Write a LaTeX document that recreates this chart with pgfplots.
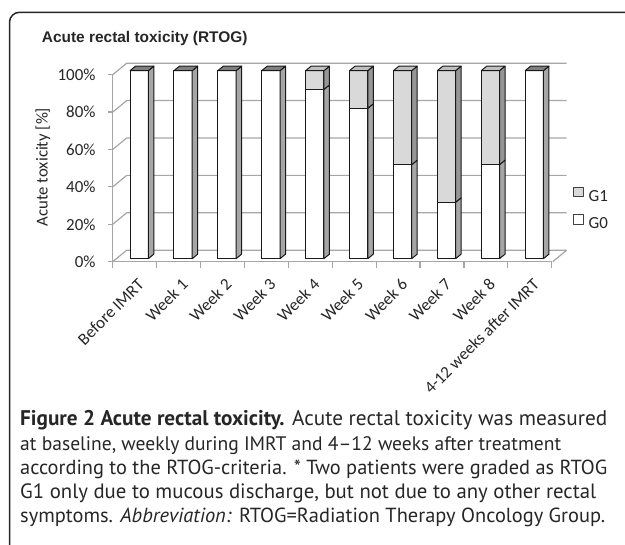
\documentclass[border=0pt]{standalone}
\usepackage{fontspec}
\setmainfont{PT Sans}
\newfontfamily\carlito{Carlito}
\newfontfamily\arialf{Liberation Sans}
\usepackage{graphicx}
\usepackage{pgfplots}
\usepackage{pgfplotstable}
\pgfplotsset{compat=1.18}

\definecolor{gridc}{HTML}{A6A6A6}
\definecolor{g1front}{HTML}{D9D9D9}
\definecolor{g1side}{HTML}{969696}
\definecolor{g1top}{HTML}{C0C0C0}
\definecolor{g0side}{HTML}{A6A6A6}
\definecolor{g0top}{HTML}{808080}
\definecolor{txt}{HTML}{262626}

\pgfplotstableread{
x g0 g1
0 100 0
1 100 0
2 100 0
3 100 0
4 90 10
5 80 20
6 50 50
7 30 70
8 50 50
9 100 0
}\tox

\begin{document}%
\def\hw{0.2084}\def\ddx{0.1253}\def\ddy{2.4}%
\gdef\faces{}%
\pgfplotstablegetrowsof{\tox}%
\pgfmathtruncatemacro\lastrow{\pgfplotsretval-1}%
\foreach \i in {0,...,\lastrow}{%
  \pgfplotstablegetelem{\i}{x}\of\tox \let\xx\pgfplotsretval
  \pgfplotstablegetelem{\i}{g0}\of\tox \let\ga\pgfplotsretval
  \pgfplotstablegetelem{\i}{g1}\of\tox \let\gb\pgfplotsretval
  \pgfmathsetmacro\xl{\xx-\hw}%
  \pgfmathsetmacro\xr{\xx+\hw}%
  \pgfmathsetmacro\xrr{\xr+\ddx}%
  \pgfmathsetmacro\xll{\xl+\ddx}%
  \pgfmathsetmacro\ya{\ga+\ddy}%
  \pgfmathsetmacro\tot{\ga+\gb}%
  \pgfmathsetmacro\tt{\tot+\ddy}%
  \ifdim\gb pt>0pt
    \xdef\faces{\unexpanded\expandafter{\faces}%
      \noexpand\addplot[forget plot, fill=g0side] coordinates {(\xr,0) (\xr,\ga) (\xrr,\ya) (\xrr,\ddy) (\xr,0)};
      \noexpand\addplot[forget plot, fill=g1side] coordinates {(\xr,\ga) (\xr,\tot) (\xrr,\tt) (\xrr,\ya) (\xr,\ga)};
      \noexpand\addplot[forget plot, fill=g1top] coordinates {(\xl,\tot) (\xr,\tot) (\xrr,\tt) (\xll,\tt) (\xl,\tot)};}%
  \else
    \xdef\faces{\unexpanded\expandafter{\faces}%
      \noexpand\addplot[forget plot, fill=g0side] coordinates {(\xr,0) (\xr,\tot) (\xrr,\tt) (\xrr,\ddy) (\xr,0)};
      \noexpand\addplot[forget plot, fill=g0top] coordinates {(\xl,\tot) (\xr,\tot) (\xrr,\tt) (\xll,\tt) (\xl,\tot)};}%
  \fi
}%
\begin{tikzpicture}
\useasboundingbox (0,0) rectangle (625bp,545bp);
% frame
\draw[line width=1.5bp, black!85] (9.5bp,0bp) -- (9.5bp,522.7bp) arc[start angle=180, end angle=90, radius=10bp] -- (625bp,532.7bp);
% title
\node[anchor=base west, inner sep=0pt, font=\arialf\bfseries\fontsize{15.5}{18}\selectfont, text=txt] at (41.7bp,502.5bp) {Acute rectal toxicity (RTOG)};
% y label
\node[rotate=90, inner sep=0pt, font=\carlito\fontsize{16.8}{18}\selectfont, text=txt] at (43bp,378bp) {Acute toxicity [\%]};
% back wall and left wall
\foreach \k in {0,...,5}{
  \pgfmathsetmacro\yf{283.3+\k*37.4}
  \draw[gridc, line width=1.2bp] (112.7bp,\yf bp) -- ++(14bp,11.5bp) -- ++(440bp,0bp);
}
\draw[gridc, line width=1.2bp] (552.7bp,283.3bp) -- ++(14bp,11.5bp);
% front frame axis
\begin{axis}[
  at={(112.7bp,283.3bp)}, anchor=south west,
  scale only axis, width=439bp, height=187bp,
  xmin=-0.5, xmax=9.5, ymin=0, ymax=100,
  axis lines*=left,
  axis line style={gridc, line width=1.2bp},
  xtick={0,...,9},
  xticklabels={Before IMRT,Week 1,Week 2,Week 3,Week 4,Week 5,Week 6,Week 7,Week 8,4-12 weeks after IMRT},
  major x tick style={draw=none},
  minor xtick={-0.5,0.5,...,9.5},
  ytick={0,20,...,100},
  yticklabels={0\%,20\%,40\%,60\%,80\%,100\%},
  tick align=outside,
  major tick length=5bp, minor tick length=6bp,
  every tick/.style={gridc, line width=1.2bp},
  tick label style={font=\carlito\fontsize{17}{18}\selectfont, text=txt},
  xticklabel style={xshift=2bp, yshift=-9.2bp, rotate=45, anchor=north east, inner sep=1bp},
  yticklabel style={inner sep=0pt, xshift=-12bp},
]
\end{axis}
% bars
\begin{axis}[
  at={(117.2bp,286.3bp)}, anchor=south west,
  scale only axis, width=439bp, height=188bp,
  xmin=-0.5, xmax=9.5, ymin=0, ymax=100,
  axis lines=none, clip=false,
  every axis plot/.append style={draw=black!90, line width=1bp, line join=round},
  legend style={draw=none, fill=none, at={(rel axis cs:1.0383,0.383)}, anchor=north west,
    inner sep=0pt, row sep=11bp, column sep=5bp,
    font=\carlito\fontsize{17}{18}\selectfont, text=txt,
    nodes={inner sep=0pt}},
]
\addplot[ybar, bar width=18.3bp, bar shift=0pt, fill=g1front,
  legend image code/.code={\draw[fill=g1front, draw=black!75, line width=1bp] (0bp,0bp) rectangle (9.5bp,9.5bp);}]
  table[x=x, y expr=\thisrow{g0}+\thisrow{g1}] {\tox};
\addlegendentry{G1}
\addplot[ybar, bar width=18.3bp, bar shift=0pt, fill=white,
  legend image code/.code={\draw[fill=white, draw=black!75, line width=1bp] (0bp,0bp) rectangle (9.5bp,9.5bp);}]
  table[x=x, y=g0] {\tox};
\addlegendentry{G0}
\faces
\end{axis}
% caption
\begin{scope}[every node/.style={anchor=base west, inner sep=0pt, font=\fontsize{20.5}{24}\selectfont, text=txt}]
\node at (20bp,119bp) {\resizebox{587bp}{!}{\textbf{Figure 2 Acute rectal toxicity.} Acute rectal toxicity was measured}};
\node at (20bp,94.8bp) {\resizebox{541bp}{!}{at baseline, weekly during IMRT and 4--12 weeks after treatment}};
\node at (20bp,70.6bp) {\resizebox{587bp}{!}{according to the RTOG-criteria. * Two patients were graded as RTOG}};
\node at (20bp,46.4bp) {\resizebox{576bp}{!}{G1 only due to mucous discharge, but not due to any other rectal}};
\node at (20bp,22.2bp) {\resizebox{585bp}{!}{symptoms. \textit{Abbreviation:} RTOG=Radiation Therapy Oncology Group.}};
\end{scope}
\end{tikzpicture}%
\end{document}
